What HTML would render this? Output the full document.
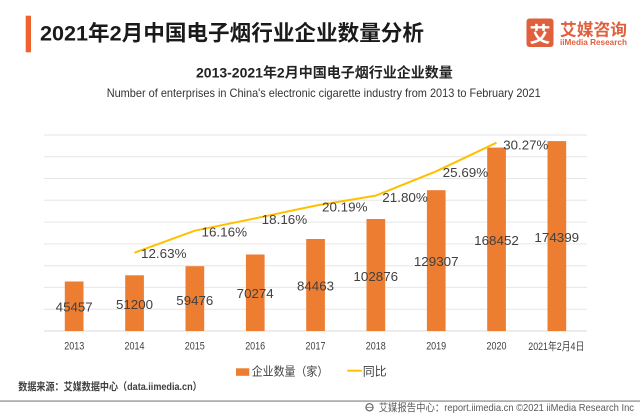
<!DOCTYPE html>
<html><head><meta charset="utf-8"><style>
html,body{margin:0;padding:0;background:#fff;}
svg{display:block;}
text{font-family:"Liberation Sans","Noto Sans CJK SC",sans-serif;}
</style></head><body>
<svg width="640" height="416" viewBox="0 0 640 416" xmlns="http://www.w3.org/2000/svg">
<rect width="640" height="416" fill="#fff"/>
<!-- header -->
<rect x="25.7" y="15.7" width="5.3" height="36.6" fill="#F0622F"/>
<text x="40" y="40.5" font-size="21.5" font-weight="bold" fill="#1a1a1a" textLength="384" lengthAdjust="spacingAndGlyphs">2021年2月中国电子烟行业企业数量分析</text>
<rect x="526.5" y="18.5" width="27" height="28.5" rx="3" fill="#E0603E"/>
<text x="540" y="42" font-size="21" font-weight="bold" fill="#fff" text-anchor="middle">艾</text>
<text x="560" y="35.5" font-size="16.5" font-weight="bold" fill="#E0603E" textLength="67" lengthAdjust="spacingAndGlyphs">艾媒咨询</text>
<text x="560" y="45" font-size="8.5" font-weight="bold" fill="#E0603E" textLength="67" lengthAdjust="spacingAndGlyphs">iiMedia Research</text>
<text x="196" y="77.5" font-size="14" font-weight="bold" fill="#222" textLength="256.7" lengthAdjust="spacingAndGlyphs">2013-2021年2月中国电子烟行业企业数量</text>
<text x="106.7" y="97" font-size="12" fill="#333" textLength="434" lengthAdjust="spacingAndGlyphs">Number of enterprises in China's electronic cigarette industry from 2013 to February 2021</text>
<!-- gridlines -->
<g stroke="#E6E6E6" stroke-width="1">
<line x1="44" x2="587" y1="135" y2="135"/>
<line x1="44" x2="587" y1="156.8" y2="156.8"/>
<line x1="44" x2="587" y1="178.5" y2="178.5"/>
<line x1="44" x2="587" y1="200.3" y2="200.3"/>
<line x1="44" x2="587" y1="222.1" y2="222.1"/>
<line x1="44" x2="587" y1="243.9" y2="243.9"/>
<line x1="44" x2="587" y1="265.7" y2="265.7"/>
<line x1="44" x2="587" y1="287.4" y2="287.4"/>
<line x1="44" x2="587" y1="309.2" y2="309.2"/>
</g>
<line x1="44" x2="587" y1="331" y2="331" stroke="#D9D9D9" stroke-width="1"/>
<!-- bars -->
<g fill="#ED7D31">
<rect x="64.8" y="281.5" width="18.7" height="49.5"/>
<rect x="125.2" y="275.3" width="18.7" height="55.7"/>
<rect x="185.5" y="266.2" width="18.7" height="64.8"/>
<rect x="245.9" y="254.5" width="18.7" height="76.5"/>
<rect x="306.2" y="239" width="18.7" height="92"/>
<rect x="366.5" y="219" width="18.7" height="112"/>
<rect x="426.9" y="190.2" width="18.7" height="140.8"/>
<rect x="487.2" y="147.6" width="18.7" height="183.4"/>
<rect x="547.5" y="141.1" width="18.7" height="189.9"/>
</g>
<!-- bar labels -->
<g font-size="13.3" fill="#404040" text-anchor="middle">
<text x="74.2" y="311.5" textLength="37" lengthAdjust="spacingAndGlyphs">45457</text>
<text x="134.5" y="309.1" textLength="37" lengthAdjust="spacingAndGlyphs">51200</text>
<text x="194.8" y="304.8" textLength="37" lengthAdjust="spacingAndGlyphs">59476</text>
<text x="255.2" y="298.1" textLength="37" lengthAdjust="spacingAndGlyphs">70274</text>
<text x="315.5" y="290.5" textLength="37" lengthAdjust="spacingAndGlyphs">84463</text>
<text x="375.8" y="280.8" textLength="44.7" lengthAdjust="spacingAndGlyphs">102876</text>
<text x="436.2" y="266.1" textLength="44.7" lengthAdjust="spacingAndGlyphs">129307</text>
<text x="496.5" y="244.8" textLength="44.7" lengthAdjust="spacingAndGlyphs">168452</text>
<text x="556.8" y="242.1" textLength="44.7" lengthAdjust="spacingAndGlyphs">174399</text>
</g>
<!-- line -->
<polyline points="134.5,252.7 194.8,230.7 255.2,218.3 315.5,205.6 375.8,195.6 436.2,171.3 496.5,142.7" fill="none" stroke="#FFC000" stroke-width="2" stroke-linejoin="round"/>
<g font-size="13.3" fill="#404040">
<text x="141" y="258.2" textLength="45.5" lengthAdjust="spacingAndGlyphs">12.63%</text>
<text x="201.5" y="236.4" textLength="45.5" lengthAdjust="spacingAndGlyphs">16.16%</text>
<text x="261.7" y="223.9" textLength="45.5" lengthAdjust="spacingAndGlyphs">18.16%</text>
<text x="322" y="211.3" textLength="45.5" lengthAdjust="spacingAndGlyphs">20.19%</text>
<text x="382.3" y="202.1" textLength="45.5" lengthAdjust="spacingAndGlyphs">21.80%</text>
<text x="442.7" y="177.1" textLength="45.5" lengthAdjust="spacingAndGlyphs">25.69%</text>
<text x="503.3" y="149.5" textLength="45" lengthAdjust="spacingAndGlyphs">30.27%</text>
</g>
<!-- x labels -->
<g font-size="10.6" fill="#404040" text-anchor="middle">
<text x="74.3" y="349.3" textLength="20" lengthAdjust="spacingAndGlyphs">2013</text>
<text x="134.5" y="349.3" textLength="20" lengthAdjust="spacingAndGlyphs">2014</text>
<text x="194.8" y="349.3" textLength="20" lengthAdjust="spacingAndGlyphs">2015</text>
<text x="255.2" y="349.3" textLength="20" lengthAdjust="spacingAndGlyphs">2016</text>
<text x="315.5" y="349.3" textLength="20" lengthAdjust="spacingAndGlyphs">2017</text>
<text x="375.8" y="349.3" textLength="20" lengthAdjust="spacingAndGlyphs">2018</text>
<text x="436.2" y="349.3" textLength="20" lengthAdjust="spacingAndGlyphs">2019</text>
<text x="496.5" y="349.3" textLength="20" lengthAdjust="spacingAndGlyphs">2020</text>
<text x="556.3" y="350" textLength="56" lengthAdjust="spacingAndGlyphs">2021年2月4日</text>
</g>
<!-- legend -->
<rect x="236" y="368.3" width="13.3" height="7.5" fill="#ED7D31"/>
<text x="251.7" y="375.5" font-size="12" fill="#404040" textLength="76.6" lengthAdjust="spacingAndGlyphs">企业数量（家）</text>
<line x1="347.3" x2="361.7" y1="370.7" y2="370.7" stroke="#FFC000" stroke-width="2"/>
<text x="362.7" y="375.5" font-size="12" fill="#404040" textLength="24" lengthAdjust="spacingAndGlyphs">同比</text>
<!-- source -->
<text x="18.3" y="390" font-size="10.5" font-weight="bold" fill="#404040" textLength="183.4" lengthAdjust="spacingAndGlyphs">数据来源：艾媒数据中心（data.iimedia.cn）</text>
<rect x="0" y="400.3" width="640" height="1.6" fill="#A6A6A6"/>
<!-- footer -->
<circle cx="369.5" cy="407.3" r="3.6" fill="none" stroke="#666" stroke-width="1.2"/>
<line x1="366" x2="373" y1="407.3" y2="407.3" stroke="#666" stroke-width="0.8"/>
<text x="378.7" y="411" font-size="10.5" fill="#595959" textLength="255.3" lengthAdjust="spacingAndGlyphs">艾媒报告中心：report.iimedia.cn  ©2021  iiMedia Research  Inc</text>
</svg>
</body></html>
